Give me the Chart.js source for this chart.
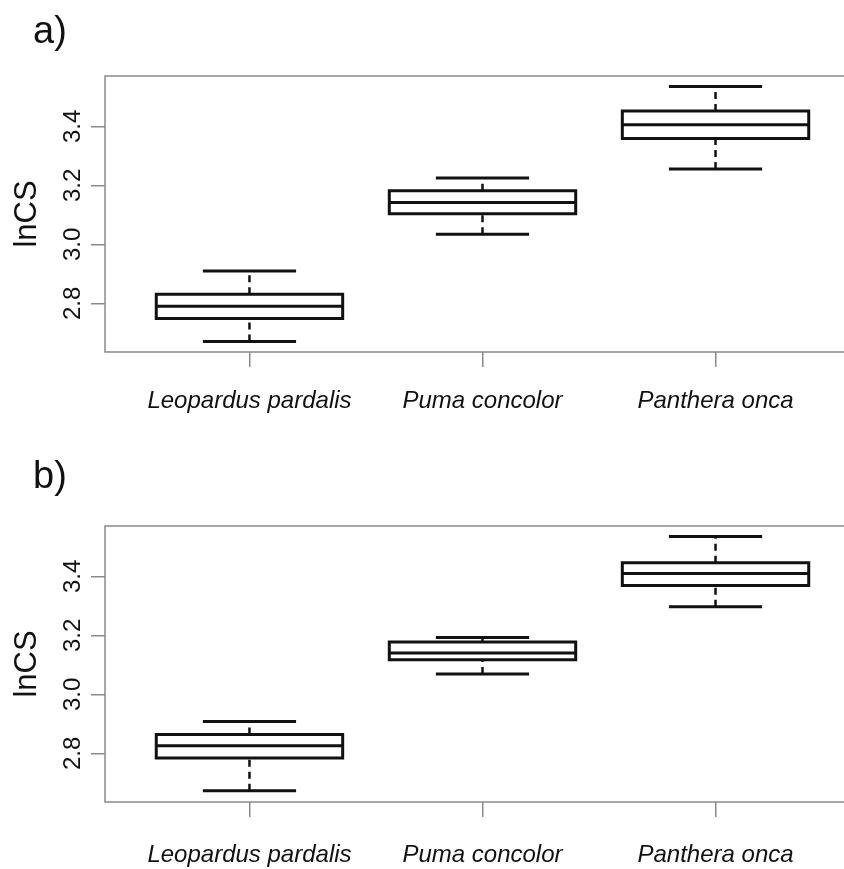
<!DOCTYPE html>
<html>
<head>
<meta charset="utf-8">
<script src="https://cdn.jsdelivr.net/npm/chart.js@4"></script>
<style>
  body { margin: 0; background: #fff; overflow: hidden; }
  canvas { position: absolute; left: 0; }
  #chartA { top: 0; }
  #chartB { top: 440px; }
</style>
</head>
<body>
<canvas id="chartA" width="860" height="440"></canvas>
<canvas id="chartB" width="860" height="429"></canvas>
<script>
// species on the x axis
const species = ['Leopardus pardalis', 'Puma concolor', 'Panthera onca'];
const yTicks = [2.8, 3.0, 3.2, 3.4];
const yMin = 2.635, yMax = 3.571;

// panel a) five-number summaries
const lowA  = [2.671, 3.034, 3.256];
const q1A   = [2.749, 3.104, 3.359];
const medA  = [2.790, 3.142, 3.406];
const q3A   = [2.831, 3.182, 3.452];
const highA = [2.910, 3.225, 3.535];

// panel b)
const lowB  = [2.673, 3.069, 3.297];
const q1B   = [2.784, 3.117, 3.369];
const medB  = [2.826, 3.140, 3.410];
const q3B   = [2.864, 3.178, 3.446];
const highB = [2.908, 3.193, 3.535];

const BOX_HALF = 0.4;   // R boxwex 0.8
const CAP_HALF = 0.2;   // staple = half box width
const INK = '#111';
const AXIS = '#8a8a8a';

function gap(i) { return { x: i, y: null }; }

// build line datasets for the boxes, medians, caps and dashed whiskers
function boxDatasets(low, q1, med, q3, high) {
  const boxes = [], medians = [], caps = [], whiskers = [];
  species.forEach((s, k) => {
    const i = k + 1;
    boxes.push({ x: i - BOX_HALF, y: q1[k] }, { x: i + BOX_HALF, y: q1[k] },
               { x: i + BOX_HALF, y: q3[k] }, { x: i - BOX_HALF, y: q3[k] },
               { x: i - BOX_HALF, y: q1[k] }, gap(i));
    medians.push({ x: i - BOX_HALF, y: med[k] }, { x: i + BOX_HALF, y: med[k] }, gap(i));
    caps.push({ x: i - CAP_HALF, y: low[k] }, { x: i + CAP_HALF, y: low[k] }, gap(i),
              { x: i - CAP_HALF, y: high[k] }, { x: i + CAP_HALF, y: high[k] }, gap(i));
    whiskers.push({ x: i, y: low[k] }, { x: i, y: q1[k] }, gap(i),
                  { x: i, y: q3[k] }, { x: i, y: high[k] }, gap(i));
  });
  const base = { showLine: true, pointRadius: 0, tension: 0, spanGaps: false,
                 borderColor: INK, fill: false };
  return [
    Object.assign({}, base, { data: whiskers, borderWidth: 2.5, borderDash: [7, 5] }),
    Object.assign({}, base, { data: caps, borderWidth: 3 }),
    Object.assign({}, base, { data: boxes, borderWidth: 3, borderJoinStyle: 'miter', borderCapStyle: 'square' }),
    Object.assign({}, base, { data: medians, borderWidth: 3 })
  ];
}

// frame, rotated y labels, axis title and panel letter
function decorPlugin(letter, letterY) {
  return {
    id: 'decor',
    afterDraw(chart) {
      const { ctx, chartArea: a, scales } = chart;
      ctx.save();
      ctx.strokeStyle = AXIS;
      ctx.lineWidth = 1.5;
      ctx.strokeRect(a.left, a.top, a.right - a.left, a.bottom - a.top);

      ctx.fillStyle = INK;
      ctx.textAlign = 'center';
      ctx.textBaseline = 'middle';
      ctx.font = '24px "Liberation Sans", Arial, sans-serif';
      yTicks.forEach(v => {
        const py = scales.y.getPixelForValue(v);
        ctx.save();
        ctx.translate(73, py);
        ctx.rotate(-Math.PI / 2);
        ctx.fillText(v.toFixed(1), 0, 0);
        ctx.restore();
      });

      ctx.font = '31px "Liberation Sans", Arial, sans-serif';
      ctx.save();
      ctx.translate(27, (a.top + a.bottom) / 2);
      ctx.rotate(-Math.PI / 2);
      ctx.fillText('lnCS', 0, 0);
      ctx.restore();

      ctx.textAlign = 'left';
      ctx.textBaseline = 'alphabetic';
      ctx.font = '38px "Liberation Sans", Arial, sans-serif';
      ctx.fillText(letter, 33, letterY);
      ctx.restore();
    }
  };
}

function makeChart(id, datasets, padTop, xHeight, labelPad, letter, letterY) {
  return new Chart(document.getElementById(id), {
    type: 'scatter',
    data: { datasets },
    options: {
      responsive: false,
      animation: false,
      layout: { padding: { top: padTop, left: 0, right: 0, bottom: 0 } },
      plugins: { legend: { display: false }, tooltip: { enabled: false } },
      scales: {
        x: {
          type: 'linear',
          min: 0.38, max: 3.62,
          afterBuildTicks: s => { s.ticks = species.map((n, k) => ({ value: k + 1 })); },
          afterFit: s => { s.height = xHeight; },
          border: { display: false },
          grid: { drawOnChartArea: false, drawTicks: true, tickLength: 15, color: AXIS, lineWidth: 1.5 },
          ticks: {
            padding: labelPad,
            autoSkip: false,
            maxRotation: 0,
            color: INK,
            font: { family: '"Liberation Sans", Arial, sans-serif', size: 24, style: 'italic' },
            callback: v => species[Math.round(v) - 1]
          }
        },
        y: {
          type: 'linear',
          min: yMin, max: yMax,
          afterBuildTicks: s => { s.ticks = yTicks.map(v => ({ value: v })); },
          afterFit: s => { s.width = 105; },
          border: { display: false },
          grid: { drawOnChartArea: false, drawTicks: true, tickLength: 14, color: AXIS, lineWidth: 1.5 },
          ticks: { display: false }
        }
      }
    },
    plugins: [decorPlugin(letter, letterY)]
  });
}

makeChart('chartA', boxDatasets(lowA, q1A, medA, q3A, highA), 76, 88, 20, 'a)', 43);
makeChart('chartB', boxDatasets(lowB, q1B, medB, q3B, highB), 86, 67, 24, 'b)', 48);
</script>
</body>
</html>
